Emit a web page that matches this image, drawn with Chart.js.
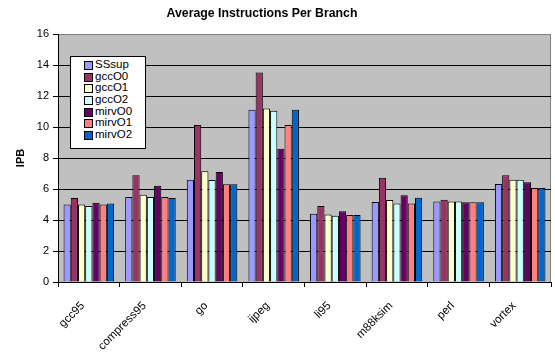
<!DOCTYPE html>
<html>
<head>
<meta charset="utf-8">
<script src="https://cdn.jsdelivr.net/npm/chart.js@4/dist/chart.umd.min.js"></script>
<style>
  html, body { margin: 0; padding: 0; background: #fff; }
  #wrap { position: relative; width: 555px; height: 354px; font-family: "Liberation Sans", Arial, sans-serif; }
  #title { position: absolute; left: 0; width: 524px; top: 6px; text-align: center; font-weight: bold; font-size: 12.3px; color: #000; }
  #legend { position: absolute; left: 70px; top: 56px; width: 74px; height: 89px; background: #fff; border: 1px solid #000; padding-top: 2px; box-sizing: content-box; }
  .item { position: relative; height: 11.7px; line-height: 11.7px; font-size: 11.5px; color: #000; padding-left: 24px; white-space: nowrap; }
  .sw { position: absolute; left: 13px; top: 2px; width: 7px; height: 7px; border: 1px solid #000; }
</style>
</head>
<body>
<div id="wrap">
  <canvas id="c" width="555" height="354"></canvas>
  <div id="title">Average Instructions Per Branch</div>
  <div id="legend"></div>
</div>
<script>
// Benchmarks on the category axis
const benchmarks = ['gcc95', 'compress95', 'go', 'ijpeg', 'li95', 'm88ksim', 'perl', 'vortex'];

// Average instructions per branch for each build
const SSsup  = [5.00, 5.48, 6.60, 11.12, 4.41, 5.16, 5.20, 6.32];
const gccO0  = [5.42, 6.88, 10.13, 13.52, 4.91, 6.73, 5.30, 6.88];
const gccO1  = [5.00, 5.63, 7.15, 11.20, 4.35, 5.29, 5.20, 6.60];
const gccO2  = [4.90, 5.48, 6.58, 11.05, 4.27, 5.07, 5.20, 6.60];
const mirvO0 = [5.12, 6.21, 7.10, 8.59, 4.56, 5.59, 5.14, 6.43];
const mirvO1 = [5.00, 5.48, 6.30, 10.13, 4.33, 5.07, 5.14, 6.06];
const mirvO2 = [5.07, 5.42, 6.30, 11.12, 4.33, 5.44, 5.14, 6.06];

const seriesNames = ['SSsup', 'gccO0', 'gccO1', 'gccO2', 'mirvO0', 'mirvO1', 'mirvO2'];
const seriesData  = [SSsup, gccO0, gccO1, gccO2, mirvO0, mirvO1, mirvO2];
const seriesColors = ['#9999FF', '#993366', '#FFFFCC', '#CCFFFF', '#660066', '#FF8080', '#0066CC'];

const FONT = '"Liberation Sans", Arial, sans-serif';

// Grey plot area with a grey frame on the top and right
const plotBackground = {
  id: 'plotBackground',
  beforeDraw(chart) {
    const { ctx, chartArea: a } = chart;
    ctx.save();
    ctx.fillStyle = '#C0C0C0';
    ctx.fillRect(a.left, a.top, a.right - a.left, a.bottom - a.top);
    ctx.strokeStyle = '#808080';
    ctx.lineWidth = 1;
    ctx.beginPath();
    ctx.moveTo(a.left, a.top + 0.5);
    ctx.lineTo(a.right - 0.5, a.top + 0.5);
    ctx.lineTo(a.right - 0.5, a.bottom);
    ctx.stroke();
    ctx.restore();
  }
};

new Chart(document.getElementById('c'), {
  type: 'bar',
  data: {
    labels: benchmarks,
    datasets: seriesNames.map((name, i) => ({
      label: name,
      data: seriesData[i],
      backgroundColor: seriesColors[i],
      borderColor: '#000',
      borderWidth: 1,
      barPercentage: 1,
      categoryPercentage: 0.82
    }))
  },
  options: {
    responsive: false,
    animation: false,
    layout: { padding: { left: 0, right: 4, top: 34, bottom: 0 } },
    plugins: {
      legend: { display: false },
      title: { display: false },
      tooltip: { enabled: false }
    },
    scales: {
      x: {
        afterFit(scale) { scale.height = 72; },
        border: { color: '#000', width: 1 },
        grid: { drawOnChartArea: false, drawTicks: true, tickLength: 5, tickColor: '#000', offset: true },
        ticks: { color: '#000', font: { family: FONT, size: 11.5 }, minRotation: 45, maxRotation: 45, padding: 12, labelOffset: -6, autoSkip: false }
      },
      y: {
        min: 0,
        max: 16,
        afterFit(scale) { scale.width = 58; },
        border: { color: '#000', width: 1 },
        grid: {
          color: (c) => (c.tick && c.tick.value === 16 ? '#808080' : '#000'),
          tickColor: '#000',
          tickLength: 5,
          drawTicks: true
        },
        ticks: { stepSize: 2, color: '#000', font: { family: FONT, size: 11 }, padding: 4 },
        title: {
          display: true,
          text: 'IPB',
          color: '#000',
          font: { family: FONT, size: 11, weight: 'bold' },
          padding: { top: 14, bottom: 0 }
        }
      }
    }
  },
  plugins: [plotBackground]
});

// Legend box inside the plot area
const legend = document.getElementById('legend');
seriesNames.forEach((name, i) => {
  const row = document.createElement('div');
  row.className = 'item';
  const sw = document.createElement('span');
  sw.className = 'sw';
  sw.style.background = seriesColors[i];
  row.appendChild(sw);
  row.appendChild(document.createTextNode(name));
  legend.appendChild(row);
});
</script>
</body>
</html>
